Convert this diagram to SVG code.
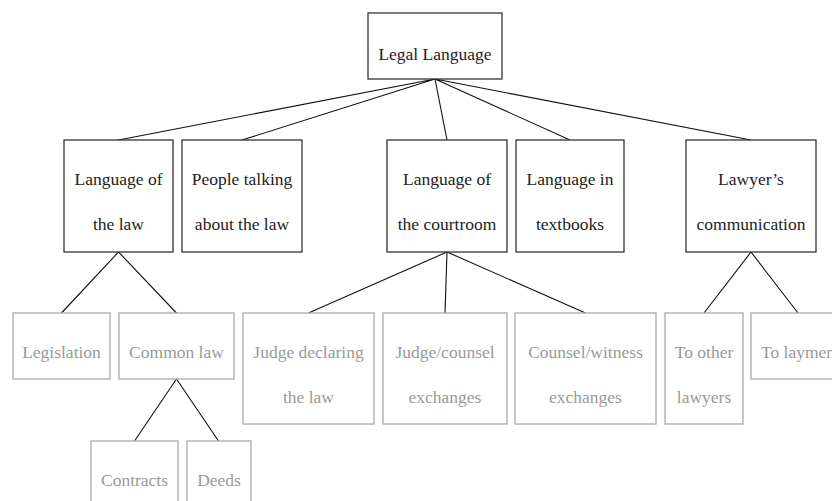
<svg xmlns="http://www.w3.org/2000/svg" width="832" height="501" viewBox="0 0 832 501">
  <style>
    .box { fill: #fff; stroke: #333; stroke-width: 1.3; }
    .sub { fill: #fff; stroke: #aaa; stroke-width: 1.3; }
    .label { font-family: 'Liberation Serif', 'Times New Roman', serif; font-size: 17.5px; text-anchor: middle; }
    .dark { fill: #222; }
    .light { fill: #999; }
    .edge { stroke: #111; stroke-width: 1.1; fill: none; }
  </style>
  <rect width="832" height="501" fill="#fff"/>

  <!-- connectors -->
  <g id="connectors" class="edge">
    <path d="M435 79 L118.5 140 M435 79 L242 140 M435 79 L447 140 M435 79 L570 140 M435 79 L751 140"/>
    <path d="M118.5 252 L61.5 313 M118.5 252 L176.5 313"/>
    <path d="M447 252 L308.5 313 M447 252 L445 313 M447 252 L585.5 313"/>
    <path d="M751 252 L704 313 M751 252 L798 313"/>
    <path d="M176.5 379 L134.5 441 M176.5 379 L218.5 441"/>
  </g>

  <g font-family="Liberation Serif, serif">
  <!-- root -->
  <g id="legal-language">
    <rect class="box" x="368" y="13" width="134" height="66"/>
    <text class="label dark" x="435" y="60">Legal Language</text>
  </g>

  <!-- second level -->
  <g id="language-of-the-law">
    <rect class="box" x="64" y="140" width="109" height="112"/>
    <text class="label dark" x="118.5" y="185">Language of</text>
    <text class="label dark" x="118.5" y="230">the law</text>
  </g>
  <g id="people-talking">
    <rect class="box" x="182" y="140" width="120" height="112"/>
    <text class="label dark" x="242" y="185">People talking</text>
    <text class="label dark" x="242" y="230">about the law</text>
  </g>
  <g id="language-of-the-courtroom">
    <rect class="box" x="387" y="140" width="120" height="112"/>
    <text class="label dark" x="447" y="185">Language of</text>
    <text class="label dark" x="447" y="230">the courtroom</text>
  </g>
  <g id="language-in-textbooks">
    <rect class="box" x="516" y="140" width="108" height="112"/>
    <text class="label dark" x="570" y="185">Language in</text>
    <text class="label dark" x="570" y="230">textbooks</text>
  </g>
  <g id="lawyers-communication">
    <rect class="box" x="686" y="140" width="130" height="112"/>
    <text class="label dark" x="751" y="185">Lawyer’s</text>
    <text class="label dark" x="751" y="230">communication</text>
  </g>

  <!-- third level -->
  <g id="legislation">
    <rect class="sub" x="13" y="313" width="97" height="66"/>
    <text class="label light" x="61.5" y="358">Legislation</text>
  </g>
  <g id="common-law">
    <rect class="sub" x="119" y="313" width="115" height="66"/>
    <text class="label light" x="176.5" y="358">Common law</text>
  </g>
  <g id="judge-declaring">
    <rect class="sub" x="243" y="313" width="131" height="111"/>
    <text class="label light" x="308.5" y="358">Judge declaring</text>
    <text class="label light" x="308.5" y="403">the law</text>
  </g>
  <g id="judge-counsel">
    <rect class="sub" x="383" y="313" width="124" height="111"/>
    <text class="label light" x="445" y="358">Judge/counsel</text>
    <text class="label light" x="445" y="403">exchanges</text>
  </g>
  <g id="counsel-witness">
    <rect class="sub" x="515" y="313" width="141" height="111"/>
    <text class="label light" x="585.5" y="358">Counsel/witness</text>
    <text class="label light" x="585.5" y="403">exchanges</text>
  </g>
  <g id="to-other-lawyers">
    <rect class="sub" x="665" y="313" width="78" height="111"/>
    <text class="label light" x="704" y="358">To other</text>
    <text class="label light" x="704" y="403">lawyers</text>
  </g>
  <g id="to-laymen">
    <rect class="sub" x="751" y="313" width="94" height="66"/>
    <text class="label light" x="798" y="358">To laymen</text>
  </g>

  <!-- fourth level -->
  <g id="contracts">
    <rect class="sub" x="91" y="441" width="87" height="80"/>
    <text class="label light" x="134.5" y="486">Contracts</text>
  </g>
  <g id="deeds">
    <rect class="sub" x="187" y="441" width="64" height="80"/>
    <text class="label light" x="219" y="486">Deeds</text>
  </g>
  </g>
</svg>
